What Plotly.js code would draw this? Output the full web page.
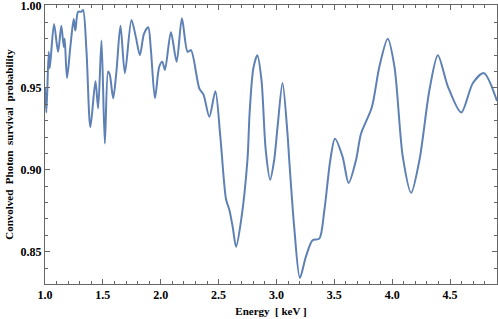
<!DOCTYPE html>
<html>
<head>
<meta charset="utf-8">
<script src="https://cdn.plot.ly/plotly-3.0.1.min.js"></script>
<style>
html,body{margin:0;padding:0;background:#fff;}
#chart{width:498px;height:319px;}
</style>
</head>
<body>
<div id="chart"></div>
<script>
var energy = [1.000,1.012,1.032,1.041,1.078,1.113,1.141,1.162,1.170,1.190,1.219,1.248,1.262,1.286,1.314,1.329,1.358,1.392,1.436,1.459,1.488,1.517,1.545,1.560,1.589,1.617,1.652,1.690,1.747,1.785,1.820,1.855,1.892,1.915,1.950,1.987,2.013,2.036,2.088,2.137,2.183,2.232,2.261,2.333,2.370,2.420,2.472,2.515,2.564,2.593,2.622,2.651,2.694,2.749,2.768,2.800,2.835,2.870,2.907,2.945,2.980,3.009,3.052,3.095,3.110,3.153,3.202,3.254,3.312,3.370,3.413,3.465,3.505,3.571,3.623,3.687,3.730,3.823,3.889,3.961,4.019,4.091,4.163,4.235,4.322,4.394,4.480,4.596,4.697,4.792,4.905];
var prob = [0.950,0.935,0.972,0.962,0.989,0.972,0.988,0.975,0.980,0.956,0.975,0.992,0.985,0.9965,0.9965,0.9976,0.973,0.926,0.954,0.9375,0.979,0.916,0.960,0.958,0.9437,0.960,0.988,0.959,0.9915,0.981,0.970,0.983,0.987,0.973,0.9437,0.963,0.966,0.961,0.984,0.966,0.9925,0.972,0.973,0.9497,0.9457,0.9324,0.948,0.920,0.882,0.8755,0.865,0.853,0.869,0.906,0.935,0.962,0.970,0.955,0.912,0.894,0.906,0.926,0.953,0.922,0.906,0.865,0.834,0.847,0.857,0.858,0.875,0.906,0.919,0.908,0.892,0.906,0.922,0.938,0.963,0.980,0.963,0.908,0.886,0.906,0.949,0.970,0.951,0.935,0.953,0.959,0.942];

var xTickVals = [1.0,1.5,2.0,2.5,3.0,3.5,4.0,4.5];
var xTickText = ['1.0','1.5','2.0','2.5','3.0','3.5','4.0','4.5'];
var yTickVals = [0.85,0.90,0.95,1.00];
var yTickText = ['0.85','0.90','0.95','1.00'];

var fontFam = '"Liberation Serif", "DejaVu Serif", serif';
var frameCol = '#666666';

var trace = {
  x: energy, y: prob, type: 'scatter', mode: 'lines',
  line: {color: '#5E81B5', width: 2, shape: 'spline', smoothing: 0.8},
  hoverinfo: 'skip'
};

var layout = {
  width: 498, height: 319,
  margin: {l: 45, r: 1, t: 5, b: 35},
  paper_bgcolor: '#ffffff', plot_bgcolor: '#ffffff',
  showlegend: false,
  font: {family: fontFam, color: '#000', size: 12},
  xaxis: {
    range: [1.0, 4.905], showgrid: false, zeroline: false,
    showline: true, linecolor: frameCol, linewidth: 1, mirror: 'allticks',
    ticks: 'inside', ticklen: 5, tickcolor: frameCol, tickwidth: 1,
    tickvals: xTickVals, ticktext: xTickText, ticklabeloverflow: 'allow',
    tickfont: {family: fontFam, size: 12, color: '#000', weight: 'bold'},
    minor: {dtick: 0.1, tick0: 1.0, ticks: 'inside', ticklen: 3, tickcolor: frameCol, showgrid: false},
    title: {text: '<b>Energy  [ keV ]</b>', font: {family: fontFam, size: 11, color: '#000'}, standoff: 5},
    automargin: false
  },
  yaxis: {
    range: [0.8303, 1.0006], showgrid: false, zeroline: false,
    showline: true, linecolor: frameCol, linewidth: 1, mirror: 'allticks',
    ticks: 'inside', ticklen: 5, tickcolor: frameCol, tickwidth: 1,
    tickvals: yTickVals, ticktext: yTickText, ticklabeloverflow: 'allow',
    tickfont: {family: fontFam, size: 12, color: '#000', weight: 'bold'},
    minor: {dtick: 0.01, tick0: 0.8, ticks: 'inside', ticklen: 3, tickcolor: frameCol, showgrid: false},
    title: {text: '<b>Convolved  Photon  survival  probability</b>', font: {family: fontFam, size: 11, color: '#000'}, standoff: 4},
    automargin: false
  }
};

Plotly.newPlot('chart', [trace], layout, {staticPlot: true, displayModeBar: false});
</script>
</body>
</html>
